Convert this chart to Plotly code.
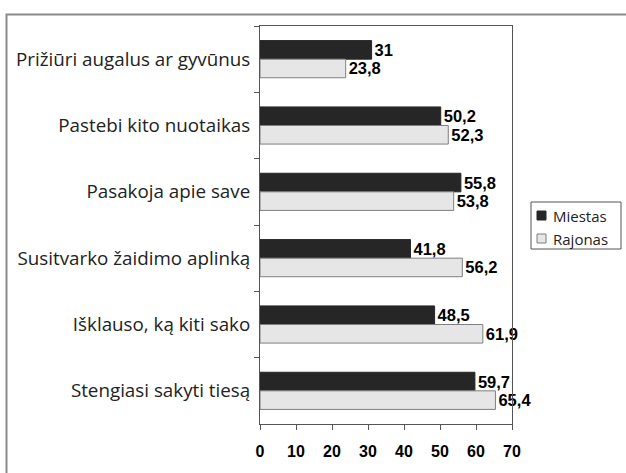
import plotly.graph_objects as go

categories = [
    "Prižiūri augalus ar gyvūnus",
    "Pastebi kito nuotaikas",
    "Pasakoja apie save",
    "Susitvarko žaidimo aplinką",
    "Išklauso, ką kiti sako",
    "Stengiasi sakyti tiesą",
]
miestas = [31, 50.2, 55.8, 41.8, 48.5, 59.7]
rajonas = [23.8, 52.3, 53.8, 56.2, 61.9, 65.4]
series_names = ["Miestas", "Rajonas"]
x_ticks = [0, 10, 20, 30, 40, 50, 60, 70]

DARK = "#262626"
LIGHT = "#e6e6e6"
LIGHT_LINE = "#7f7f7f"

# plot area in pixels
L, R, T, B = 260, 512, 26, 424
W, H = 626, 473


def px(x):
    return (x - L) / (R - L)


def py(y):
    return (B - y) / (B - T)


def fmt(v):
    return ("%g" % v).replace(".", ",")


lab_font = dict(family="Liberation Sans, Arial", size=16.5, color="#000", weight="bold")

fig = go.Figure()
fig.add_trace(go.Bar(
    y=categories, x=miestas, orientation="h", name=series_names[0],
    marker=dict(color=DARK, line=dict(color=DARK, width=1)),
    text=[fmt(v) for v in miestas], textposition="outside",
    textfont=lab_font, cliponaxis=False, showlegend=False,
))
fig.add_trace(go.Bar(
    y=categories, x=rajonas, orientation="h", name=series_names[1],
    marker=dict(color=LIGHT, line=dict(color=LIGHT_LINE, width=1)),
    text=[fmt(v) for v in rajonas], textposition="outside",
    textfont=lab_font, cliponaxis=False, showlegend=False,
))

shapes = [
    # outer frame
    dict(type="rect", xref="paper", yref="paper",
         x0=px(6.5), x1=px(640), y0=py(490), y1=py(14.5),
         line=dict(color="#8a8a8a", width=2), fillcolor="rgba(0,0,0,0)", layer="below"),
    # legend box
    dict(type="rect", xref="paper", yref="paper",
         x0=px(531), x1=px(621), y0=py(249), y1=py(202),
         line=dict(color="#555555", width=1), fillcolor="white"),
    dict(type="rect", xref="paper", yref="paper",
         x0=px(537), x1=px(546), y0=py(220), y1=py(211),
         line=dict(color=DARK, width=1), fillcolor=DARK),
    dict(type="rect", xref="paper", yref="paper",
         x0=px(537), x1=px(546), y0=py(243), y1=py(234),
         line=dict(color=LIGHT_LINE, width=1), fillcolor=LIGHT),
]
leg_font = dict(family="Open Sans", size=15, color="#222")
annotations = [
    dict(xref="paper", yref="paper", x=px(551), y=py(215.5), text=series_names[0],
         showarrow=False, xanchor="left", yanchor="middle", font=leg_font),
    dict(xref="paper", yref="paper", x=px(551), y=py(238.5), text=series_names[1],
         showarrow=False, xanchor="left", yanchor="middle", font=leg_font),
]

fig.update_layout(
    width=W, height=H,
    margin=dict(l=L, r=W - R, t=T, b=H - B, autoexpand=False),
    paper_bgcolor="white", plot_bgcolor="white",
    barmode="group", bargap=0.44, bargroupgap=0,
    showlegend=False,
    xaxis=dict(
        range=[0, 70], tickvals=x_ticks, ticktext=[str(t) for t in x_ticks],
        ticks="outside", ticklen=5, tickcolor="#555",
        showline=True, linecolor="#555", linewidth=1, mirror=True,
        showgrid=False, zeroline=False, automargin=False,
        ticklabelstandoff=8,
        tickfont=dict(family="Liberation Sans, Arial", size=16, color="#000", weight="bold"),
    ),
    yaxis=dict(
        type="category", categoryorder="array", categoryarray=categories,
        autorange="reversed",
        tickson="boundaries", ticks="outside", ticklen=5, tickcolor="#555",
        showline=True, linecolor="#555", linewidth=1, mirror=True,
        showgrid=False, automargin=False,
        ticklabelstandoff=5,
        tickfont=dict(family="Open Sans", size=18.8, color="#222"),
    ),
    shapes=shapes,
    annotations=annotations,
)

fig.write_html("out.html", config={"displayModeBar": False},
               post_script="document.body.style.margin='0';")
